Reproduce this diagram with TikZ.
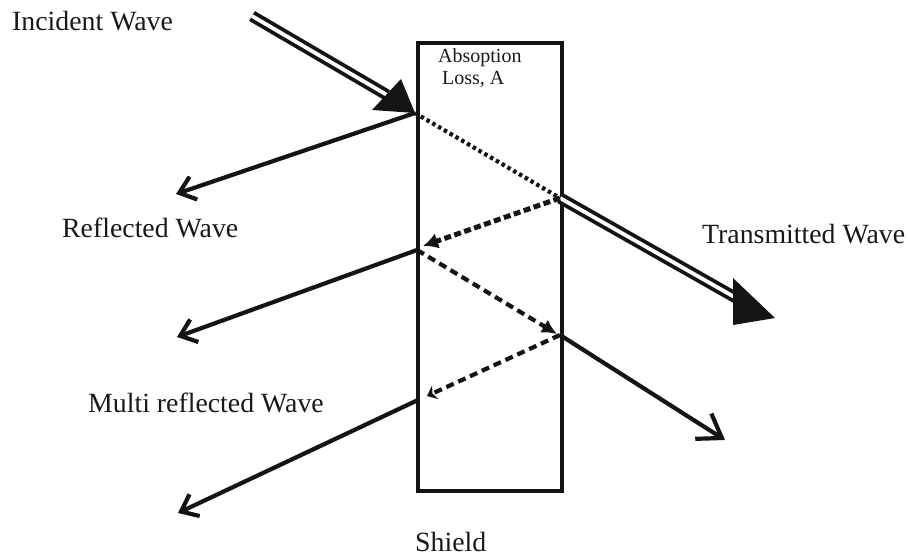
\documentclass[tikz,border=0pt]{standalone}
\usepackage{fontspec}
\setmainfont{Liberation Serif}
\usetikzlibrary{arrows.meta}
\begin{document}
\begin{tikzpicture}[x=1pt,y=-1pt,
  lbl/.style={anchor=base west,inner sep=0pt,font=\fontsize{27.8}{32}\selectfont,text=black!90},
  small/.style={anchor=base west,inner sep=0pt,font=\fontsize{20}{24}\selectfont,text=black!90},
  ray/.style={line width=4.2pt,draw=black!92},
  barb/.style={-{Straight Barb[length=15pt,width=24pt,line width=4.2pt]}},
  dblray/.style={draw=black!92,line width=3.8pt,double=white,double distance=3.8pt},
  headfill/.style={fill=black!92},
  dotray/.style={line width=4.2pt,draw=black!92,dash pattern=on 3.5pt off 3.2pt},
  dashray/.style={line width=5pt,draw=black!92,dash pattern=on 7pt off 3.5pt},
  dashthin/.style={line width=4.2pt,draw=black!92,dash pattern=on 8pt off 5pt}]
\useasboundingbox (0,0) rectangle (908,559);

% shield
\node[draw=black!92,line width=4.2pt,minimum width=144pt,minimum height=448pt,inner sep=0pt,anchor=north west] (shield) at (416,41) {};

% points
\coordinate (I0) at (252,16);
\coordinate (A) at (415,113);
\coordinate (B) at (560,198);
\coordinate (C) at (417,250);
\coordinate (Cin) at (423,246);
\coordinate (D) at (560,335);
\coordinate (Din) at (557,334);
\coordinate (E) at (418,400);
\coordinate (Ein) at (427,396);
\coordinate (R1) at (176,194);
\coordinate (R2) at (177,337);
\coordinate (R3) at (178,513);
\coordinate (T) at (775,318);
\coordinate (M) at (725,440);
\coordinate (Ibase) at (387,95);
\coordinate (Tbase) at (738,299);

% incident wave
\draw[dblray] (I0) -- (Ibase);
\fill[headfill] (A) -- (372,110) -- (401,79) -- cycle;

% transmitted wave
\draw[dblray] (B) -- (Tbase);
\fill[headfill] (T) -- (733,278) -- (733,325) -- cycle;

% internal rays
\draw[dotray] (A) -- (B);
\draw[dashray,-{Latex[length=15pt,width=16pt]}] (B) -- (Cin);
\draw[dashthin,-{Latex[length=15pt,width=15pt]}] (C) -- (Din);
\draw[dashthin,-{Stealth[length=9pt,width=15pt,inset=3pt]}] (D) -- (Ein);

% reflected / emerging rays
\draw[ray,barb] (A) -- (R1);
\draw[ray,barb] (C) -- (R2);
\draw[ray,barb] (E) -- (R3);
\draw[ray,-{Straight Barb[length=22pt,width=30pt,line width=4.2pt]}] (D) -- (M);

% labels
\node[lbl] (inc) at (12,31) {Incident Wave};
\node[lbl] (refl) at (62,237) {Reflected Wave};
\node[lbl] (trans) at (702,243) {Transmitted Wave};
\node[lbl] (multi) at (88,412) {Multi reflected Wave};
\node[lbl] (shl) at (415,551) {Shield};
\node[small] (abs1) at (438,63) {Absoption};
\node[small] (abs2) at (442,85) {Loss, A};
\end{tikzpicture}
\end{document}
